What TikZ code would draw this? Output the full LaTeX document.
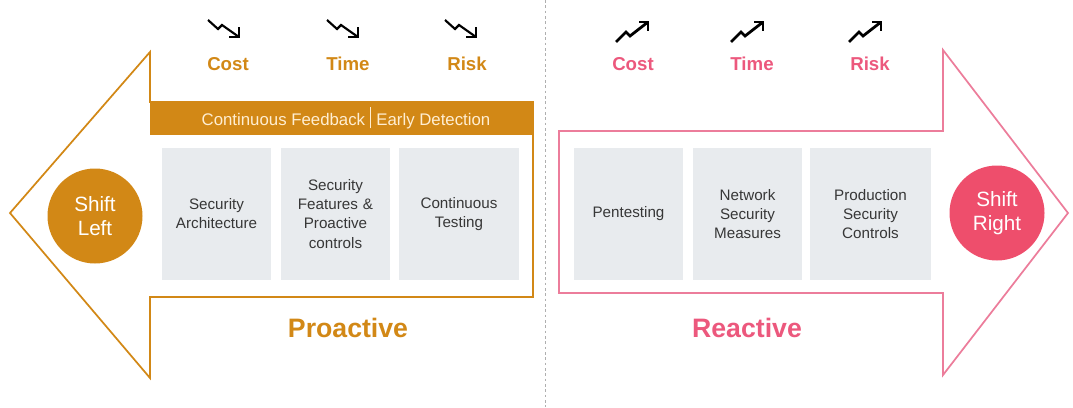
\documentclass[tikz,border=0pt]{standalone}
\usepackage{fontspec}
\setmainfont{Liberation Sans}
\definecolor{proorange}{RGB}{210,136,22}
\definecolor{bandtext}{RGB}{255,238,210}
\definecolor{repinktext}{RGB}{236,88,125}
\definecolor{repinkfill}{RGB}{238,78,108}
\definecolor{repinkline}{RGB}{236,125,155}
\definecolor{boxgray}{RGB}{232,235,238}
\definecolor{boxtext}{RGB}{55,55,55}
\definecolor{divider}{RGB}{175,175,175}
\tikzset{
  stage/.style={fill=boxgray, draw=none, minimum width=109*0.75pt, minimum height=132*0.75pt,
    text width=104*0.75pt, align=center, text=boxtext,
    font=\fontsize{11.4pt}{14.3pt}\selectfont, inner sep=0pt},
  metric/.style={font=\fontsize{14pt}{16pt}\selectfont\bfseries, inner sep=0pt},
  phase/.style={font=\fontsize{20pt}{24pt}\selectfont\bfseries, inner sep=0pt},
  shiftdot/.style={circle, minimum size=95*0.75pt, inner sep=0pt, text=white, align=center,
    font=\fontsize{15.5pt}{17.5pt}\selectfont},
  trenddown/.pic={
    \draw[line width=1.6pt, line join=miter] (-18,-8) -- (-8,1) -- (-4,-3) -- (13,9);
    \draw[line width=1.6pt, line join=miter] (13,-1) -- (13,9) -- (3,9);
  },
  trendup/.pic={
    \draw[line width=2.1pt, line join=miter] (-17,11) -- (-7,1) -- (-3,5) -- (15,-9);
    \draw[line width=2.1pt, line join=miter] (6,-9) -- (15,-9) -- (15,0);
  },
}
\begin{document}
\begin{tikzpicture}[x=0.75pt, y=-0.75pt]
  \useasboundingbox (0,0) rectangle (1073,407);

  % divider between the two halves
  \draw[divider, dash pattern=on 2pt off 2pt, line width=0.6pt] (545,0) -- (545,407);

  % ---------- proactive half: arrow pointing left ----------
  \fill[proorange] (150,102) rectangle (533,135);
  \draw[proorange, line width=1.3pt, line join=miter]
    (150,52) -- (10,213) -- (150,378) -- (150,297) -- (533,297) -- (533,102) -- (150,102) -- cycle;
  \node[text=bandtext, font=\fontsize{12.6pt}{14pt}\selectfont, inner sep=0pt] (band) at (346,118)
    {Continuous Feedback\hspace{0.3em}\raisebox{-0.2em}{\rule{0.9pt}{1.25em}}\hspace{0.3em}Early Detection};

  \node[shiftdot, fill=proorange] (sl) at (95,216) {Shift\\Left};

  \node[stage] (arch) at (216.5,214) {Security\\Architecture};
  \node[stage] (feat) at (335.5,214) {Security\\Features \&\\Proactive\\controls};
  \node[stage, minimum width=120*0.75pt] (test) at (459,214) {Continuous\\Testing};

  \node[metric, text=proorange] (lcost) at (228,64) {Cost};
  \node[metric, text=proorange] (ltime) at (348,64) {Time};
  \node[metric, text=proorange] (lrisk) at (467,64) {Risk};
  \pic at (226,28) {trenddown};
  \pic at (345,28) {trenddown};
  \pic at (463,28) {trenddown};

  \node[phase, text=proorange] (pro) at (348,328) {Proactive};

  % ---------- reactive half: arrow pointing right ----------
  \draw[repinkline, line width=1.3pt, line join=miter]
    (559,131) -- (943,131) -- (943,50) -- (1068,213) -- (943,375) -- (943,293) -- (559,293) -- cycle;

  \node[stage] (pent) at (628.5,214) {Pentesting};
  \node[stage] (netw) at (747.5,214) {Network\\Security\\Measures};
  \node[stage, minimum width=121*0.75pt] (prod) at (870.5,214) {Production\\Security\\Controls};

  \node[shiftdot, fill=repinkfill] (sr) at (997,213) {Shift\\Right};

  \node[metric, text=repinktext] (rcost) at (633,64) {Cost};
  \node[metric, text=repinktext] (rtime) at (752,64) {Time};
  \node[metric, text=repinktext] (rrisk) at (870,64) {Risk};
  \pic at (633,31) {trendup};
  \pic at (748,31) {trendup};
  \pic at (866,31) {trendup};

  \node[phase, text=repinktext] (rea) at (747,328) {Reactive};
\end{tikzpicture}
\end{document}
